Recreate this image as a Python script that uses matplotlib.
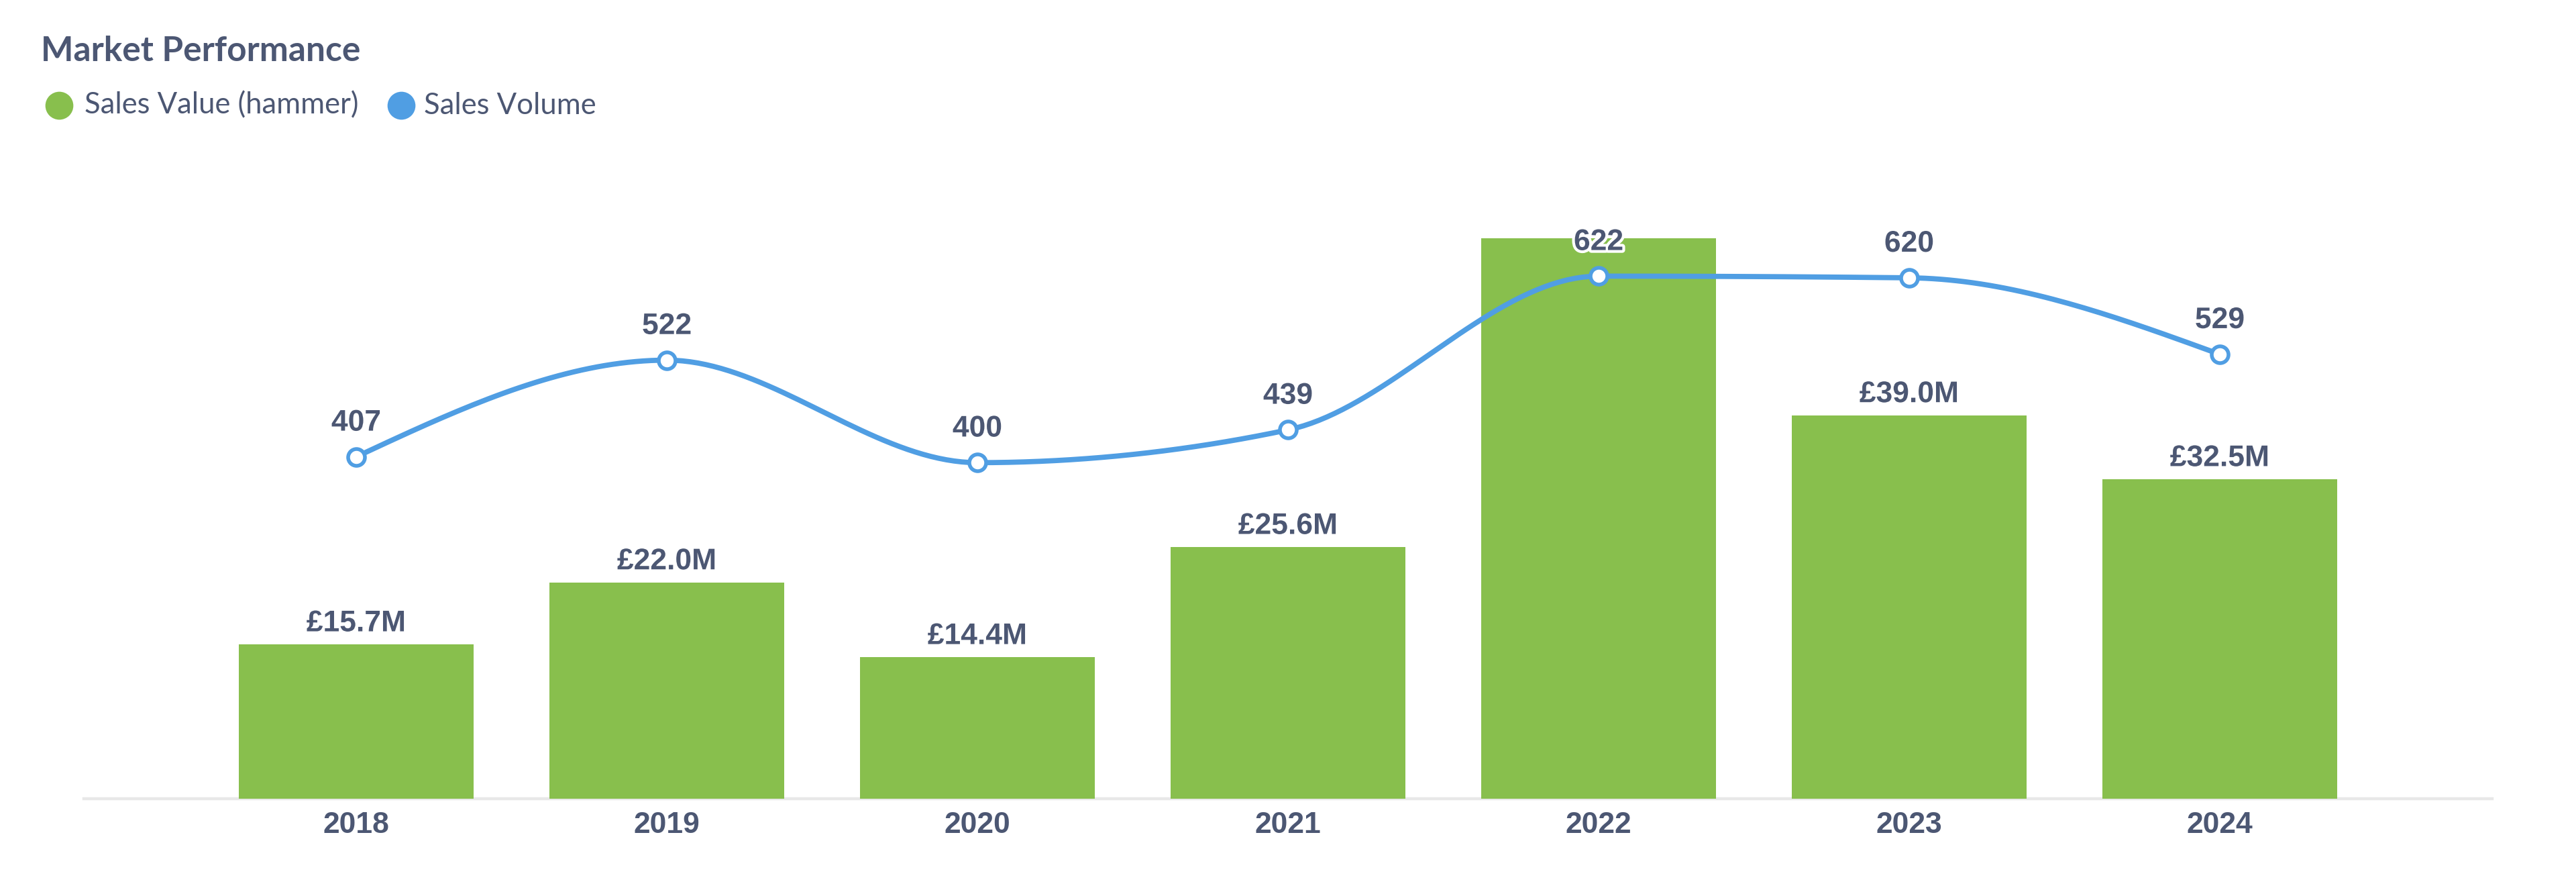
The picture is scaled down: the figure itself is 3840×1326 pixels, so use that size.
import numpy as np
import matplotlib
matplotlib.use("Agg")
from matplotlib import pyplot as plt
from matplotlib.lines import Line2D
import matplotlib.patheffects as pe

# data
years = ['2018', '2019', '2020', '2021', '2022', '2023', '2024']
sales_value = [15.7, 22.0, 14.4, 25.6, 57.0, 39.0, 32.5]   # £M, hammer
sales_volume = [407, 522, 400, 439, 622, 620, 529]
hidden_value_labels = ['2022']   # covered in the original

W, H = 3840, 1326
DPI = 200
GREEN = '#88BF4D'
BLUE = '#509EE3'
TEXT = '#4C5773'

def monotone_curve(x, y, n=40): # d3-style monotoneX, just for drawing the smooth line
	x = np.asarray(x, float)
	y = np.asarray(y, float)
	h = np.diff(x)
	s = np.diff(y) / h
	t = np.zeros(len(x))
	for k in range(1, len(x) - 1):
		s0, s1 = s[k - 1], s[k]
		p = (s0 * h[k] + s1 * h[k - 1]) / (h[k - 1] + h[k])
		t[k] = (np.sign(s0) + np.sign(s1)) * min(abs(s0), abs(s1), 0.5 * abs(p))
	t[0] = (3 * s[0] - t[1]) / 2
	t[-1] = (3 * s[-1] - t[-2]) / 2
	xs, ys = [], []
	for k in range(len(x) - 1):
		u = np.linspace(0, 1, n, endpoint=(k == len(x) - 2))
		h00 = 2 * u**3 - 3 * u**2 + 1
		h10 = u**3 - 2 * u**2 + u
		h01 = -2 * u**3 + 3 * u**2
		h11 = u**3 - u**2
		xs.append(x[k] + u * h[k])
		ys.append(h00 * y[k] + h10 * h[k] * t[k] + h01 * y[k + 1] + h11 * h[k] * t[k + 1])
	return np.concatenate(xs), np.concatenate(ys)

fig = plt.figure(figsize=(W / DPI, H / DPI), dpi=DPI)

# axes box in pixels: left 125, right 3715, baseline 1190, top 300
ax = fig.add_axes([125 / W, (H - 1190) / H, (3715 - 125) / W, (1190 - 300) / H])
ax2 = ax.twinx()

pos = np.arange(len(years))
ax.bar(pos, sales_value, width=0.756, color=GREEN, zorder=2)
ax.set_xlim(-0.877, 6.877)
ax.set_ylim(0, 60.75)
ax2.set_ylim(0, 711)

cx, cy = monotone_curve(pos, sales_volume)
ax2.plot(cx, cy, color=BLUE, lw=2.8, zorder=3, solid_capstyle='round')
ax2.plot(pos, sales_volume, 'o', ms=9, mfc='white', mec=BLUE, mew=2.0, zorder=4)

for a in (ax, ax2):
	for sp in a.spines.values():
		sp.set_visible(False)
	a.set_yticks([])

ax.axhline(0, color='#E8E8E8', lw=1.6, zorder=1, clip_on=False)
ax.set_xticks(pos)
ax.set_xticklabels(years, fontsize=16, fontweight='bold', color=TEXT, family='Liberation Sans')
ax.tick_params(axis='x', length=0, pad=7)

outline = [pe.withStroke(linewidth=3, foreground='white')]

# bar labels
for i, v in enumerate(sales_value):
	if years[i] in hidden_value_labels:
		continue
	ax.annotate('£%.1fM' % v, (pos[i], v), xytext=(0, 7), textcoords='offset points',
		ha='center', va='baseline', fontsize=16, fontweight='bold', color=TEXT,
		family='Liberation Sans', zorder=5, path_effects=outline)

# line labels
for i, v in enumerate(sales_volume):
	ax2.annotate(str(v), (pos[i], v), xytext=(0, 14), textcoords='offset points',
		ha='center', va='baseline', fontsize=16, fontweight='bold', color=TEXT,
		family='Liberation Sans', zorder=6, path_effects=outline)

# title and legend
fig.text(61 / W, 1 - 91 / H, 'Market Performance', fontsize=18.5, fontweight='bold',
	family='Lato', color=TEXT, va='baseline')

legend_items = [(88, 126, GREEN, 'Sales Value (hammer)'), (598, 632, BLUE, 'Sales Volume')]
for mx, tx, col, lab in legend_items:
	fig.add_artist(Line2D([mx / W], [1 - 157 / H], marker='o', ms=14, color=col,
		mec=col, transform=fig.transFigure))
	fig.text(tx / W, 1 - 157 / H, lab, fontsize=15.7, family='Lato', color=TEXT, va='center')

plt.savefig('out.png', dpi=DPI)
